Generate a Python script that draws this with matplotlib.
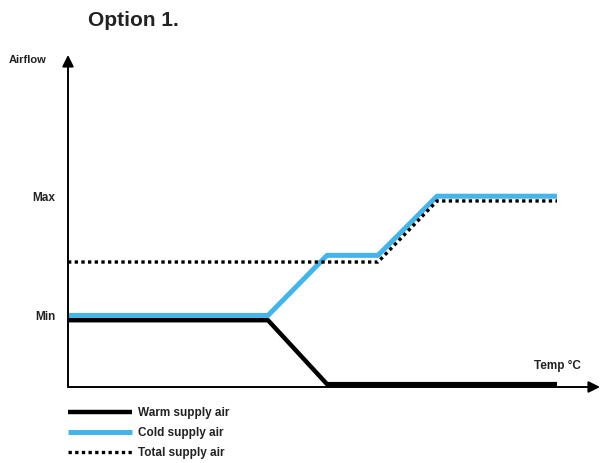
import matplotlib
matplotlib.use("Agg")
import matplotlib.pyplot as plt

# temperature axis in arbitrary units, airflow in % of max
warm_x = [0, 20, 25.9, 48.9]
warm_y = [35, 35, 1.5, 1.5]
cold_x = [0, 20, 25.9, 31.0, 36.9, 48.9]
cold_y = [37.5, 37.5, 69, 69, 100, 100]
total_x = [0, 25.9, 31.0, 36.9, 48.9]
total_y = [65.5, 65.5, 65.5, 97.5, 97.5]
tick_vals = [37.5, 100]
tick_labels = ["Min", "Max"]
legend_labels = ["Warm supply air", "Cold supply air", "Total supply air"]

plt.rcParams['font.family'] = ['Liberation Sans', 'DejaVu Sans']
blue = '#45b4e8'

fig = plt.figure(figsize=(6.03, 4.63), dpi=100)
ax = fig.add_axes([68/603, 76/463, 532/603, 332/463])
ax.set_xlim(0, 53.2)
ax.set_ylim(0, 174)
for s in ax.spines.values():
    s.set_visible(False)

w, = ax.plot(warm_x, warm_y, color='black', lw=3.2, solid_capstyle='butt', zorder=3)
c, = ax.plot(cold_x, cold_y, color=blue, lw=3.6, solid_capstyle='butt', zorder=2)
t, = ax.plot(total_x, total_y, color='black', lw=2.4, linestyle=(0, (1, 1)), zorder=4)

# axes with arrows
for tip in [(0, 1.0), (1.0, 0)]:
    ax.annotate('', xy=tip, xytext=(0, 0), xycoords='axes fraction',
                arrowprops=dict(arrowstyle='-|>', color='black', lw=1.4, mutation_scale=17,
                                shrinkA=0, shrinkB=0), annotation_clip=False)

ax.set_xticks([])
ax.set_yticks(tick_vals)
ax.set_yticklabels(tick_labels, fontsize=8.5, fontweight='bold', color='#222222')
ax.tick_params(axis='y', length=0, pad=9)

fig.text(88/603, 1 - 20/463, "Option 1.", fontsize=15, fontweight='bold',
         va='center', ha='left', color='#222222')
fig.text(9/603, 1 - 60/463, "Airflow", fontsize=8, fontweight='bold',
         va='center', ha='left', color='#222222')
fig.text(581/603, 1 - 366/463, "Temp °C", fontsize=8.5, fontweight='bold',
         va='center', ha='right', color='#222222')

leg = fig.legend([w, c, t], legend_labels, loc='upper left',
                 bbox_to_anchor=(60/603, 1 - 399/463), frameon=False,
                 fontsize=8.5, handlelength=5.4, handletextpad=0.5,
                 labelspacing=0.68, borderpad=0.2)
for txt in leg.get_texts():
    txt.set_fontweight('bold')
    txt.set_color('#222222')

fig.savefig("out.png", dpi=100)
